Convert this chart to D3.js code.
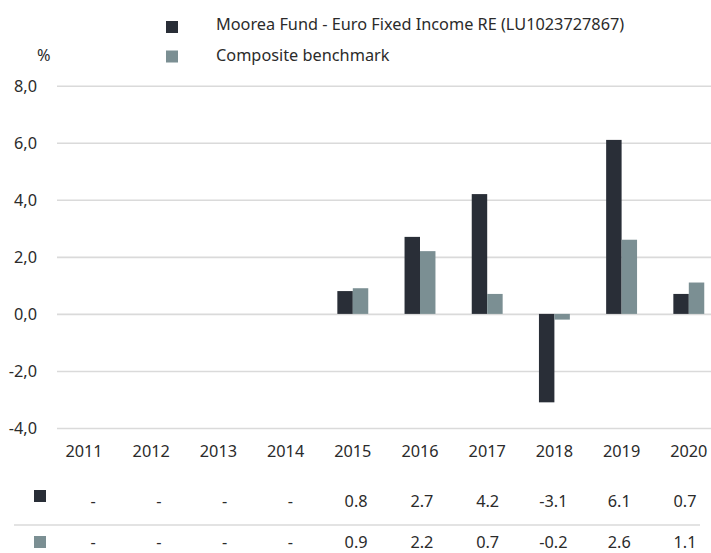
<!DOCTYPE html>
<html>
<head>
<meta charset="utf-8">
<script src="https://cdn.jsdelivr.net/npm/d3@7"></script>
<style>
  html, body { margin: 0; padding: 0; background: #fff; }
  svg { display: block; font-family: "Noto Sans", "Open Sans", sans-serif; }
</style>
</head>
<body>
<div id="chart"></div>
<script>
// ---- data ----
const years = ["2011","2012","2013","2014","2015","2016","2017","2018","2019","2020"];
const fundValues  = [null, null, null, null, 0.8, 2.7, 4.2, -3.1, 6.1, 0.7];
const benchValues = [null, null, null, null, 0.9, 2.2, 0.7, -0.2, 2.6, 1.1];
const seriesNames = ["Moorea Fund - Euro Fixed Income RE (LU1023727867)", "Composite benchmark"];
const yTicks = [8, 6, 4, 2, 0, -2, -4];
const seriesColors = ["#292e37", "#7b8f93"];

const W = 711, H = 553;
const textColor = "#2b2b2b";
const gridColor = "#dadada";
const fs = 16.3;

const svg = d3.select("#chart").append("svg").attr("width", W).attr("height", H);

const series = [
  { name: seriesNames[0], values: fundValues, color: seriesColors[0] },
  { name: seriesNames[1], values: benchValues, color: seriesColors[1] }
];

// ---- scales ----
const y = d3.scaleLinear().domain([-4, 8]).range([428, 85.7]);
const x0 = d3.scaleBand().domain(years).range([50.4, 722.4]).paddingInner(0.54).paddingOuter(0.27);
const x1 = d3.scaleBand().domain([0, 1]).range([0, x0.bandwidth()]);
const xTable = d3.scalePoint().domain(years).range([93, 685]);

// ---- y axis with gridlines ----
const yAxis = d3.axisLeft(y)
  .tickValues(yTicks)
  .tickSize(-(W - 57))
  .tickPadding(20)
  .tickFormat(d => d3.format(".1f")(d).replace(".", ",").replace("−", "-"));
const gy = svg.append("g").attr("transform", "translate(57,0)").call(yAxis);
gy.select(".domain").remove();
gy.selectAll(".tick line").attr("stroke", gridColor).attr("stroke-width", 1.6);
gy.selectAll(".tick text").attr("fill", textColor).attr("font-size", fs).attr("font-family", "Noto Sans").attr("dy", "0.36em");

svg.append("text").attr("x", 37).attr("y", 61).attr("fill", textColor)
  .attr("font-size", fs).text("%");

// ---- bars ----
series.forEach((s, si) => {
  svg.append("g").selectAll("rect")
    .data(years.map((yr, i) => ({ yr, v: s.values[i] })).filter(d => d.v !== null))
    .join("rect")
    .attr("x", d => x0(d.yr) + x1(si))
    .attr("width", x1.bandwidth())
    .attr("y", d => y(Math.max(0, d.v)))
    .attr("height", d => Math.abs(y(d.v) - y(0)))
    .attr("fill", s.color);
});

// ---- x axis ----
const xAxis = d3.axisBottom(x0).tickSize(0).tickPadding(3);
const gx = svg.append("g").attr("transform", "translate(0,442)").call(xAxis);
gx.select(".domain").remove();
gx.selectAll(".tick text").attr("fill", textColor).attr("font-size", fs).attr("font-family", "Noto Sans");

// ---- legend ----
const legend = svg.append("g");
series.forEach((s, i) => {
  const ly = [21, 50.5][i];
  legend.append("rect").attr("x", 166).attr("y", ly).attr("width", 12).attr("height", 12).attr("fill", s.color);
  legend.append("text").attr("x", 216).attr("y", [30, 61][i]).attr("fill", textColor)
    .attr("font-size", fs).text(s.name);
});

// ---- table ----
const rowBase = [507, 548];
const rowSquare = [490, 536];
series.forEach((s, i) => {
  svg.append("rect").attr("x", 34).attr("y", rowSquare[i]).attr("width", 12).attr("height", 12).attr("fill", s.color);
  svg.append("g").selectAll("text")
    .data(years.map((yr, j) => ({ yr, v: s.values[j] })))
    .join("text")
    .attr("x", d => xTable(d.yr))
    .attr("y", rowBase[i])
    .attr("text-anchor", "middle")
    .attr("fill", textColor)
    .attr("font-size", fs)
    .text(d => d.v === null ? "-" : d3.format(".1f")(d.v).replace("−", "-"));
});
svg.append("line").attr("x1", 14).attr("x2", 700).attr("y1", 525).attr("y2", 525)
  .attr("stroke", gridColor).attr("stroke-width", 1.5);
</script>
</body>
</html>
